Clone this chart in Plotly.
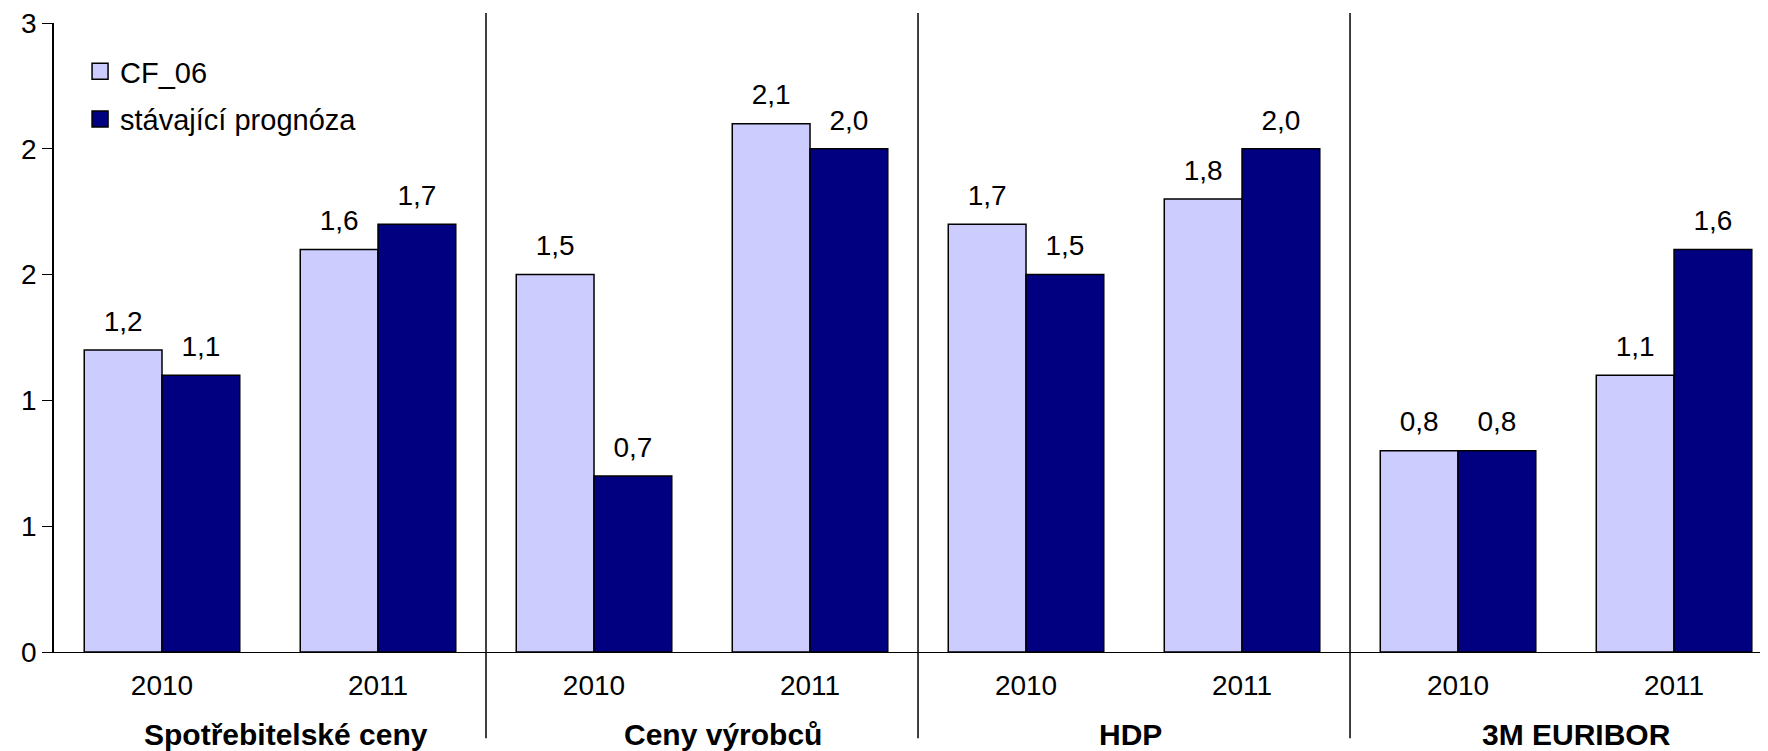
import plotly.graph_objects as go

# ---- data ----
years = ["2010", "2011", "2010", "2011", "2010", "2011", "2010", "2011"]
groups = ["Spotřebitelské ceny", "Ceny výrobců", "HDP", "3M EURIBOR"]
cf06 = [1.2, 1.6, 1.5, 2.1, 1.7, 1.8, 0.8, 1.1]
current = [1.1, 1.7, 0.7, 2.0, 1.5, 2.0, 0.8, 1.6]
series_names = ["CF_06", "stávající prognóza"]
ytick_vals = [0, 0.5, 1.0, 1.5, 2.0, 2.5]
ytick_text = ["0", "1", "1", "2", "2", "3"]

# ---- style ----
FONT = "Liberation Sans, Arial, sans-serif"
LIGHT = "#CCCCFF"
DARK = "#000080"
BARGAP = 0.28
W = (1 - BARGAP) / 2
FS = 28
GROUP_LABEL_SHIFT = [16, 21, -4, 10]   # pixel nudges of the group titles

xs = list(range(len(years)))

fig = go.Figure()
for vals, col, name in [(cf06, LIGHT, series_names[0]), (current, DARK, series_names[1])]:
    fig.add_trace(go.Bar(
        x=xs, y=vals, name=name, showlegend=False,
        marker=dict(color=col, line=dict(color="black", width=1.5)),
        hoverinfo="skip",
    ))
for vals, sign in [(cf06, -1), (current, 1)]:
    fig.add_trace(go.Scatter(
        x=[x + sign * W / 2 for x in xs], y=vals, mode="markers+text",
        marker=dict(size=18, color="rgba(0,0,0,0)"),
        text=[f"{v:.1f}".replace(".", ",") for v in vals],
        textposition="top center",
        textfont=dict(family=FONT, size=FS, color="black"),
        showlegend=False, hoverinfo="skip", cliponaxis=False,
    ))
# legend entries
for col, name in [(LIGHT, series_names[0]), (DARK, series_names[1])]:
    fig.add_trace(go.Scatter(
        x=[None], y=[None], mode="markers", name=name, legendgroup=name,
        marker=dict(symbol="square", size=16, color=col, line=dict(color="black", width=1.5)),
    ))

# separators between groups
for k in range(1, len(groups)):
    fig.add_shape(type="line", xref="x", yref="paper",
                  x0=2 * k - 0.5, x1=2 * k - 0.5, y0=-0.137, y1=1.016,
                  line=dict(color="black", width=1.5))

# group labels
for k, g in enumerate(groups):
    fig.add_annotation(text=f"<b>{g}</b>", x=2 * k + 0.5, xref="x", y=-0.102, yref="paper",
                       yanchor="top", xanchor="center", showarrow=False,
                       xshift=GROUP_LABEL_SHIFT[k],
                       font=dict(family=FONT, size=30, color="black"))

fig.update_layout(
    width=1760, height=743,
    margin=dict(l=46, r=0, t=15, b=99),
    paper_bgcolor="white", plot_bgcolor="white",
    barmode="group", bargap=BARGAP, bargroupgap=0,
    font=dict(family=FONT, size=FS, color="black"),
    legend=dict(x=0.0152, y=0.9635, xanchor="left", yanchor="top",
                font=dict(family=FONT, size=29, color="black"),
                bgcolor="rgba(0,0,0,0)", tracegroupgap=7, traceorder="grouped"),
    xaxis=dict(range=[-0.5, 7.435], tickvals=xs, ticktext=years,
               showline=True, linecolor="black", linewidth=1,
               ticks="outside", ticklen=8, tickcolor="rgba(0,0,0,0)",
               showgrid=False, zeroline=False, ticklabeloverflow="allow",
               tickfont=dict(family=FONT, size=FS, color="black")),
    yaxis=dict(range=[0, 2.5], tickvals=ytick_vals, ticktext=ytick_text,
               showline=True, linecolor="black", linewidth=1.5,
               ticks="outside", ticklen=10, tickcolor="black", tickwidth=1,
               ticklabelstandoff=0, ticklabeloverflow="allow",
               showgrid=False, zeroline=False,
               tickfont=dict(family=FONT, size=FS, color="black")),
)

fig.write_html("out.html")
